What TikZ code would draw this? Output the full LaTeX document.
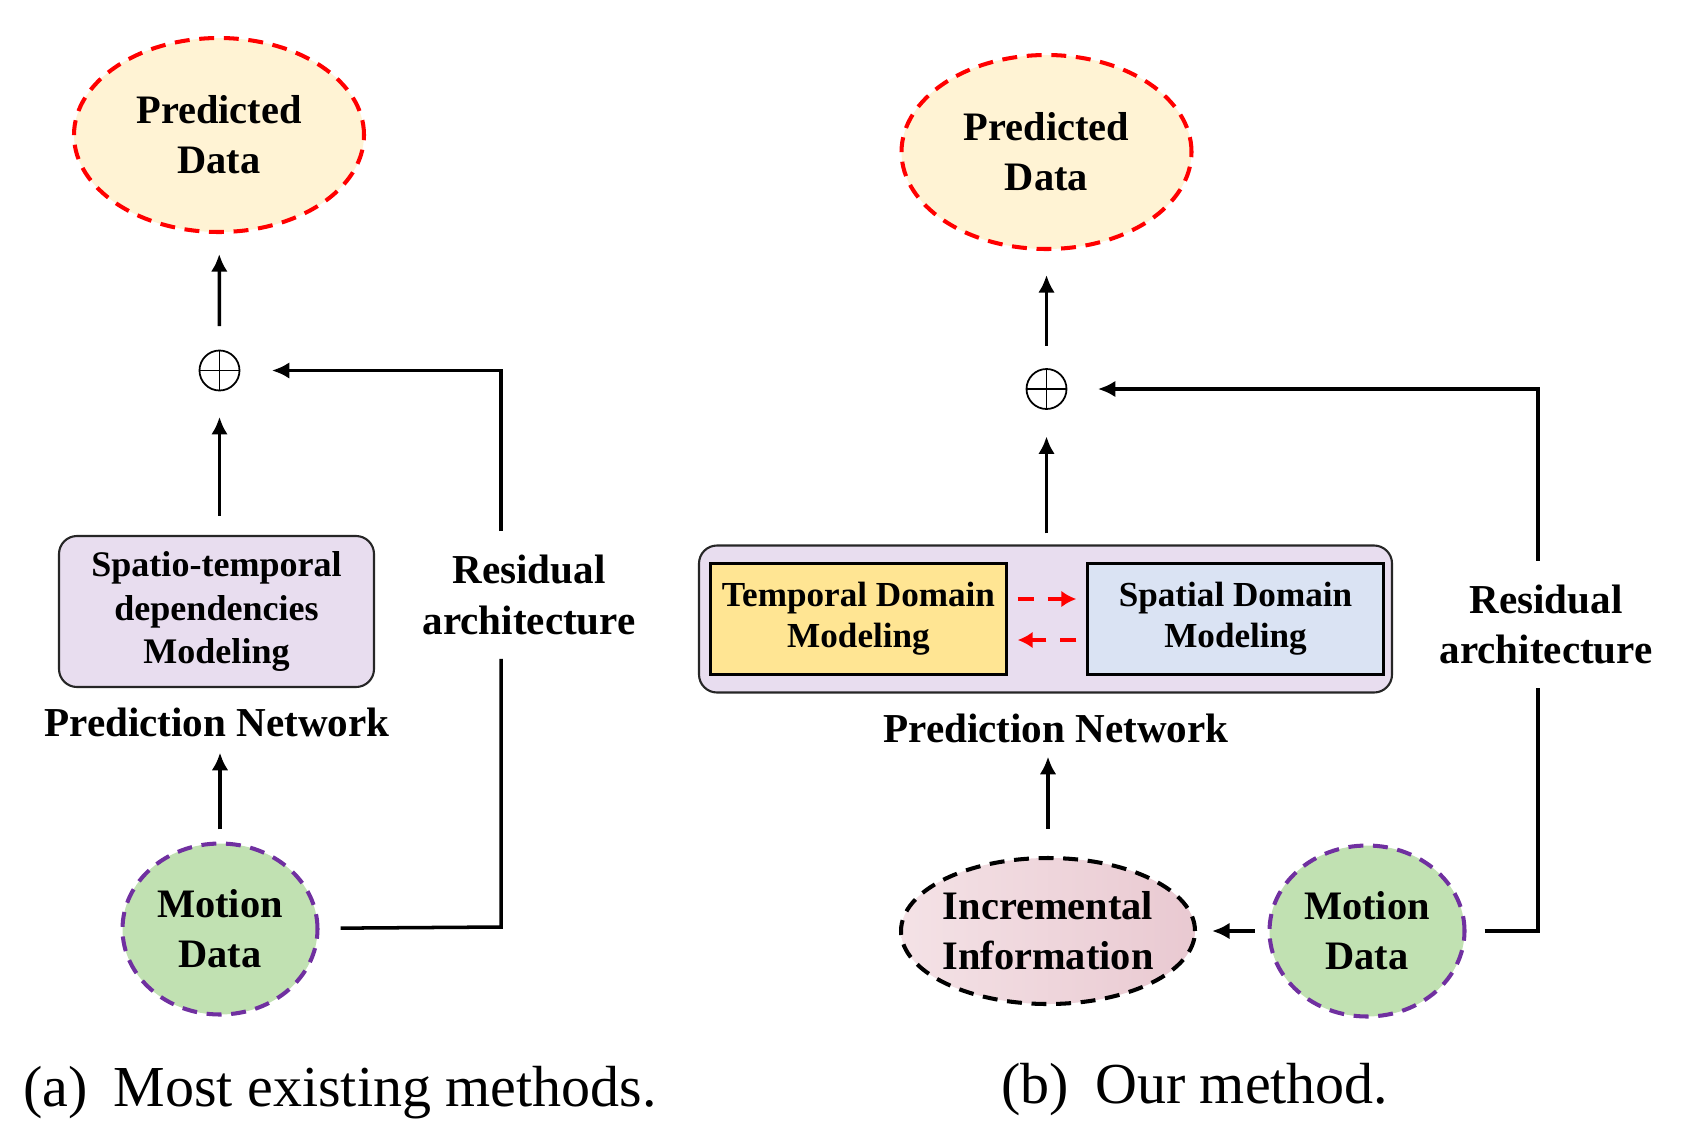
\documentclass[tikz,border=0pt]{standalone}
\usepackage{fontspec}
\setmainfont{Liberation Serif}
\usetikzlibrary{shapes.geometric,arrows.meta,calc}

\definecolor{predfill}{HTML}{FFF3D4}
\definecolor{netfill}{HTML}{E8DDEF}
\definecolor{tempfill}{HTML}{FFE593}
\definecolor{spatfill}{HTML}{DAE3F3}
\definecolor{motionfill}{HTML}{C1E1B2}
\definecolor{motionline}{HTML}{7030A0}
\definecolor{incleft}{HTML}{F4E2E6}
\definecolor{incright}{HTML}{E9C9D1}

\begin{document}
\begin{tikzpicture}[data/.style={ellipse,align=center,line width=2.3pt,dash pattern=on 8.5pt off 5.5pt,font=\bfseries\fontsize{23}{28.5}\selectfont},
                    predicted data/.style={data,draw=red,fill=predfill,minimum width=5.8cm,minimum height=3.88cm},
                    motion data/.style={data,draw=motionline,fill=motionfill,minimum width=3.9cm,minimum height=3.42cm},
                    incremental data/.style={data,draw=black,left color=incleft,right color=incright,
                                             inner xsep=-2pt,inner ysep=2pt,minimum width=5.88cm,minimum height=2.92cm},
                    network/.style={draw=black!85,line width=1.2pt,rounded corners=0.36cm,fill=netfill},
                    domain box/.style={draw=black,line width=1.4pt,minimum width=5.92cm,minimum height=2.22cm,align=center,font=\bfseries\fontsize{20}{23.5}\selectfont},
                    tag/.style={font=\bfseries\fontsize{23.4}{28.5}\selectfont,align=center},
                    residual tag/.style={tag,inner ysep=0.48cm},
                    sum/.style={circle,draw,line width=1pt,minimum size=0.8cm,inner sep=0pt,
                                path picture={\draw[line width=1pt] (path picture bounding box.north) -- (path picture bounding box.south)
                                              (path picture bounding box.west) -- (path picture bounding box.east);}},
                    communication/.style={line width=2pt,-{Latex[length=10pt,width=9.5pt]}},
                    shortcut/.style={line width=2pt},
                    exchange/.style={line width=2.2pt,red,dash pattern=on 9pt off 8pt,-{Latex[length=8.5pt,width=9.5pt]}},
                    subcaption/.style={font=\fontsize{33}{38}\selectfont}]
      \useasboundingbox (0,0) rectangle (33.64,-22.92);

      % (a) most existing methods
      \node[predicted data] (preda) at (4.38,-2.70) {Predicted\\Data};
      \node[sum] (suma) at (4.39,-7.41) {};
      \node[network,minimum width=6.3cm,minimum height=3.02cm,align=center,
            font=\bfseries\fontsize{20.5}{24.5}\selectfont] (stma) at (4.33,-12.23) {
        Spatio-temporal\\dependencies\\Modeling
      };
      \node[tag] (pna) at (4.34,-14.44) {Prediction Network};
      \node[motion data] (mota) at (4.40,-18.58) {Motion\\Data};
      \node[residual tag] (resa) at (10.58,-11.90) {Residual\\architecture};
      \node[subcaption] (capa) at (6.80,-21.86) {(a)\hspace{0.45em}Most existing methods.};

      \coordinate (corner a) at (10.02,-18.54);
      \coordinate (corner b) at (10.02,-7.41);

      \draw[communication,shorten <=0.47cm,shorten >=0.4cm] (suma) -- (preda);
      \draw[communication,shorten <=0.38cm,shorten >=0.51cm] (stma.north -| suma) -- (suma);
      \draw[communication,shorten <=0.24cm,shorten >=0.2cm] (mota) -- (mota |- pna.south);
      \draw[shortcut,shorten <=0.42cm] (mota) -- (corner a) -- (corner a |- resa.south);
      \draw[communication,shorten >=0.63cm] (corner b |- resa.north) -- (corner b) -- (suma);

      % (b) our method
      \node[predicted data] (predb) at (20.93,-3.04) {Predicted\\Data};
      \node[sum] (sumb) at (20.93,-7.78) {};
      \node[network,minimum width=13.86cm,minimum height=2.94cm] (netb) at (20.91,-12.38) {};
      \node[domain box,fill=tempfill] (tem) at (17.17,-12.38) {Temporal Domain\\Modeling};
      \node[domain box,fill=spatfill] (spa) at (24.71,-12.38) {Spatial Domain\\Modeling};
      \node[tag] (pnb) at (21.12,-14.56) {Prediction Network};
      \node[incremental data] (inc) at (20.96,-18.62) {Incremental\\Information};
      \node[motion data] (motb) at (27.34,-18.62) {Motion\\Data};
      \node[residual tag] (resb) at (30.92,-12.49) {Residual\\architecture};
      \node[subcaption] (capb) at (23.90,-21.80) {(b)\hspace{0.45em}Our method.};

      \coordinate (corner c) at (30.76,-18.62);
      \coordinate (corner d) at (30.76,-7.78);

      \draw[exchange,shorten <=0.2cm,shorten >=0.2cm] ([yshift=0.4cm]tem.east) -- ([yshift=0.4cm]spa.west);
      \draw[exchange,shorten <=0.2cm,shorten >=0.2cm] ([yshift=-0.42cm]spa.west) -- ([yshift=-0.42cm]tem.east);

      \draw[communication,shorten <=0.45cm,shorten >=0.48cm] (sumb) -- (predb);
      \draw[communication,shorten <=0.22cm,shorten >=0.53cm] (netb.north -| sumb) -- (sumb);
      \draw[communication,shorten <=0.54cm,shorten >=0.16cm] (inc) -- (inc |- pnb.south);
      \draw[communication,shorten <=0.26cm,shorten >=0.3cm] (motb) -- (inc);
      \draw[shortcut,shorten <=0.36cm] (motb) -- (corner c) -- (corner c |- resb.south);
      \draw[communication,shorten >=0.61cm] (corner d |- resb.north) -- (corner d) -- (sumb);
    \end{tikzpicture}
\end{document}
